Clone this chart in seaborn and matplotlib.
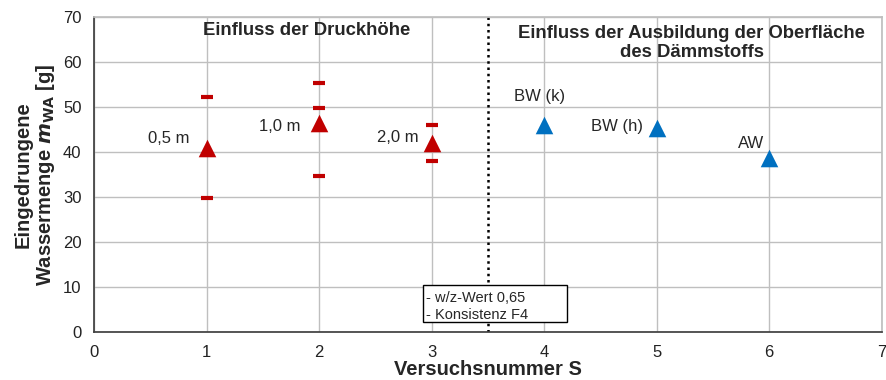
import matplotlib
matplotlib.use("Agg")
import matplotlib.pyplot as plt
from matplotlib.patches import Rectangle
import seaborn as sns
import pandas as pd

# mean values per test
red_x = [1, 2, 3]
red_y = [40.9, 46.5, 42.0]
blue_x = [4, 5, 6]
blue_y = [46.0, 45.3, 38.6]

# single measurements (dashes)
dash_x = [1, 1, 2, 2, 2, 3, 3]
dash_y = [52.2, 29.8, 55.3, 49.8, 34.6, 46.0, 38.0]

red_labels = ["0,5 m", "1,0 m", "2,0 m"]
blue_labels = ["BW (k)", "BW (h)", "AW"]

sns.set_theme(style="whitegrid")
plt.rcParams["font.family"] = ["Liberation Sans", "DejaVu Sans"]

fig, ax = plt.subplots(figsize=(8.87, 3.8), dpi=100)
fig.subplots_adjust(left=0.106, right=0.994, bottom=0.126, top=0.955)

red = "#C00000"
blue = "#0070C0"

sns.scatterplot(x=dash_x, y=dash_y, marker="_", s=75, linewidth=3,
                color=red, ax=ax, zorder=3)
sns.scatterplot(x=red_x, y=red_y, marker="^", s=160, color=red,
                edgecolor=red, linewidth=0, ax=ax, zorder=4)
sns.scatterplot(x=blue_x, y=blue_y, marker="^", s=160, color=blue,
                edgecolor=blue, linewidth=0, ax=ax, zorder=4)

# point labels (offsets from the points)
red_off = [(-0.34, 2.2), (-0.35, -0.7), (-0.30, 1.3)]
blue_off = [(-0.04, 6.4), (-0.35, 0.5), (-0.16, 3.4)]
for x, y, t, (dx, dy) in zip(red_x, red_y, red_labels, red_off):
    ax.text(x + dx, y + dy, t, ha="center", va="center", fontsize=12)
for x, y, t, (dx, dy) in zip(blue_x, blue_y, blue_labels, blue_off):
    ax.text(x + dx, y + dy, t, ha="center", va="center", fontsize=12)

ax.axvline(3.5, color="black", linestyle=(0, (1, 1.5)), linewidth=1.8, zorder=2)

ax.text(1.89, 67.0, "Einfluss der Druckhöhe", ha="center", va="center",
        fontsize=13.3, fontweight="bold")
ax.text(5.31, 64.3, "Einfluss der Ausbildung der Oberfläche\ndes Dämmstoffs",
        ha="center", va="center", fontsize=13.3, fontweight="bold", linespacing=1.15)

# note box
ax.add_patch(Rectangle((2.92, 2.2), 1.28, 8.2, facecolor="white", edgecolor="black",
                       linewidth=1, zorder=5))
ax.text(2.95, 7.6, "- w/z-Wert 0,65", ha="left", va="center", fontsize=10.5, zorder=6)
ax.text(2.95, 3.9, "- Konsistenz F4", ha="left", va="center", fontsize=10.5, zorder=6)

ax.set_xlim(0, 7)
ax.set_ylim(0, 70)
ax.set_xticks(range(0, 8))
ax.set_yticks(range(0, 80, 10))
ax.grid(True, color="#BFBFBF", linewidth=1)
for s in ax.spines.values():
    s.set_color("#BFBFBF")
ax.spines["left"].set_color("#404040")
ax.spines["bottom"].set_color("#404040")
ax.tick_params(axis="both", direction="inout", length=6, width=1, color="#404040",
               labelsize=12, labelcolor="#222222")
ax.tick_params(axis="x", pad=6)
ax.tick_params(axis="y", pad=6)

ax.set_xlabel("Versuchsnummer S", fontsize=14.5, fontweight="bold", labelpad=0)
ax.set_ylabel("Eingedrungene\nWassermenge $\\mathbfit{m}_{\\mathbf{WA}}$ [g]", fontsize=14.5,
              fontweight="bold", labelpad=4, linespacing=1.1)

fig.savefig("out.png", dpi=100)
